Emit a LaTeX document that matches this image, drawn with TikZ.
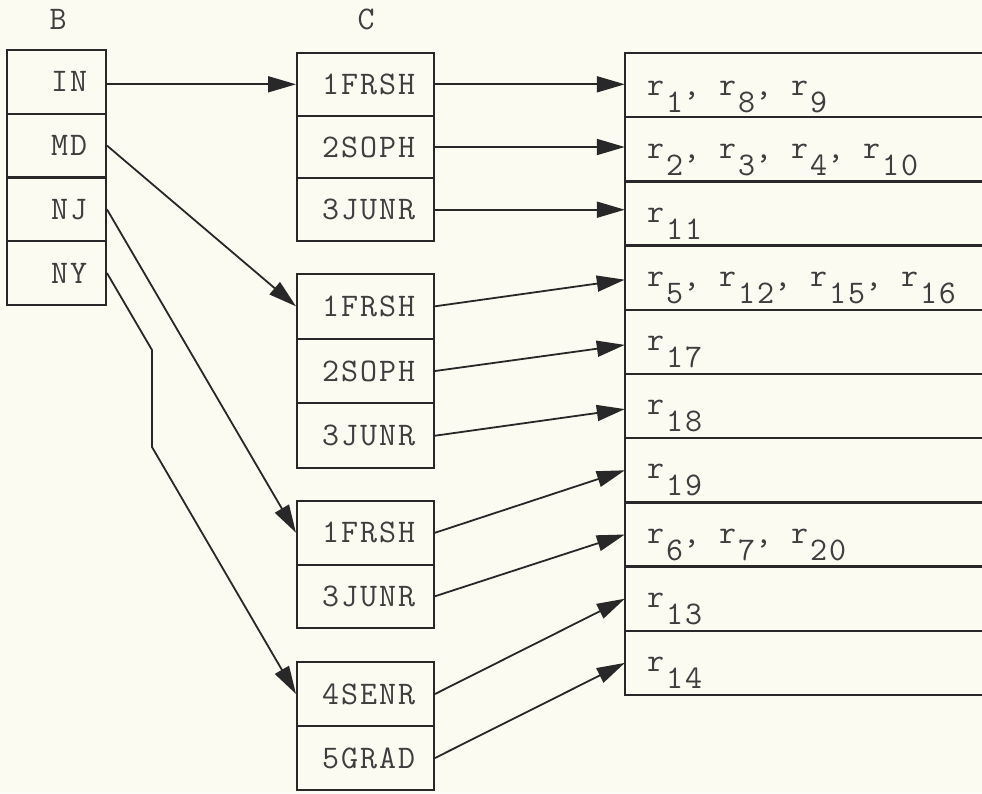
\documentclass[tikz,border=0pt]{standalone}
\usepackage{fontspec}
\setmonofont{Latin Modern Mono}[LetterSpace=6]
\usetikzlibrary{arrows.meta}
\definecolor{paper}{RGB}{251,251,242}
\definecolor{ink}{RGB}{40,40,40}
\definecolor{txt}{RGB}{62,62,62}
\newcommand\lowd[1]{\kern2pt\raisebox{-17pt}{#1}}
\begin{document}
\begin{tikzpicture}[x=1pt,y=-1pt,
  every node/.style={font=\fontsize{33}{38}\selectfont\ttfamily, text=txt},
  boxline/.style={draw=ink, line width=2pt},
  bcell/.style={boxline, rectangle, minimum width=99pt, minimum height=63.75pt,
     inner xsep=19pt, inner ysep=0pt, text width=61pt, align=right},
  ccell/.style={boxline, rectangle, minimum width=137pt,
     inner xsep=19pt, inner ysep=0pt, text width=99pt, align=right},
  rcell/.style={rectangle, minimum width=357pt, minimum height=64.2pt, inner sep=0pt},
  rtext/.style={anchor=base west, inner sep=0pt},
  conn/.style={draw=ink, line width=1.8pt, -{Triangle[length=28pt,width=16pt]}, fill=none},
]
\useasboundingbox (0,0) rectangle (982,793);
\fill[paper] (0,0) rectangle (982,793);

% headers
\node (lblB) at (58,19) {B};
\node (lblC) at (366,19) {C};

% B column
\node[bcell] (in) at (56.5,81.9) {IN};
\node[bcell] (md) at (56.5,145.6) {MD};
\node[bcell] (nj) at (56.5,209.4) {NJ};
\node[bcell] (ny) at (56.5,273.1) {NY};

% C column, group 1
\node[ccell, minimum height=62.67pt] (g1a) at (365.5,84.3) {1FRSH};
\node[ccell, minimum height=62.67pt] (g1b) at (365.5,147) {2SOPH};
\node[ccell, minimum height=62.67pt] (g1c) at (365.5,209.7) {3JUNR};
% group 2
\node[ccell, minimum height=64.67pt] (g2a) at (365.5,306.3) {1FRSH};
\node[ccell, minimum height=64.67pt] (g2b) at (365.5,371) {2SOPH};
\node[ccell, minimum height=64.67pt] (g2c) at (365.5,435.7) {3JUNR};
% group 3
\node[ccell, minimum height=63.5pt] (g3a) at (365.5,532.75) {1FRSH};
\node[ccell, minimum height=63.5pt] (g3b) at (365.5,596.25) {3JUNR};
% group 4
\node[ccell, minimum height=64pt] (g4a) at (365.5,694) {4SENR};
\node[ccell, minimum height=64pt] (g4b) at (365.5,758) {5GRAD};

% right column cells
\foreach \i in {1,...,10}{
  \node[rcell] (r\i) at (803.5,{53+64.2*(\i-0.5)}) {};
  \draw[boxline] (r\i.north east) -- (r\i.north west) -- (r\i.south west) -- (r\i.south east);
}

% right column texts
\node[rtext] (t1) at (647,95) {r\lowd{1}, r\lowd{8}, r\lowd{9}};
\node[rtext] (t2) at (647,158) {r\lowd{2}, r\lowd{3}, r\lowd{4}, r\lowd{10}};
\node[rtext] (t3) at (647,222) {r\lowd{11}};
\node[rtext] (t4) at (647,286) {r\lowd{5}, r\lowd{12}, r\lowd{15}, r\lowd{16}};
\node[rtext] (t5) at (647,350) {r\lowd{17}};
\node[rtext] (t6) at (647,414) {r\lowd{18}};
\node[rtext] (t7) at (647,478) {r\lowd{19}};
\node[rtext] (t8) at (647,543) {r\lowd{6}, r\lowd{7}, r\lowd{20}};
\node[rtext] (t9) at (647,607) {r\lowd{13}};
\node[rtext] (t10) at (647,671) {r\lowd{14}};

% B -> C connectors
\draw[conn] (in.east |- g1a.west) -- (g1a.west);
\draw[conn] (md.east) -- (g2a.west);
\draw[conn] (nj.east) -- (g3a.west);
\coordinate (nyb1) at (152,350);
\coordinate (nyb2) at (152,447);
\draw[conn] (ny.east) -- (nyb1) -- (nyb2) -- (g4a.west);

% C -> R connectors
\draw[conn] (g1a.east) -- (g1a.east -| r1.west);
\draw[conn] (g1b.east) -- (g1b.east -| r2.west);
\draw[conn] (g1c.east) -- (g1c.east -| r3.west);
\draw[conn] (g2a.east) -- ([yshift=-2pt]r4.west);
\draw[conn] (g2b.east) -- ([yshift=-3pt]r5.west);
\draw[conn] (g2c.east) -- ([yshift=-3pt]r6.west);
\draw[conn] (g3a.east) -- (r7.west);
\draw[conn] (g3b.east) -- (r8.west);
\draw[conn] (g4a.east) -- (r9.west);
\draw[conn] (g4b.east) -- (r10.west);
\end{tikzpicture}
\end{document}
